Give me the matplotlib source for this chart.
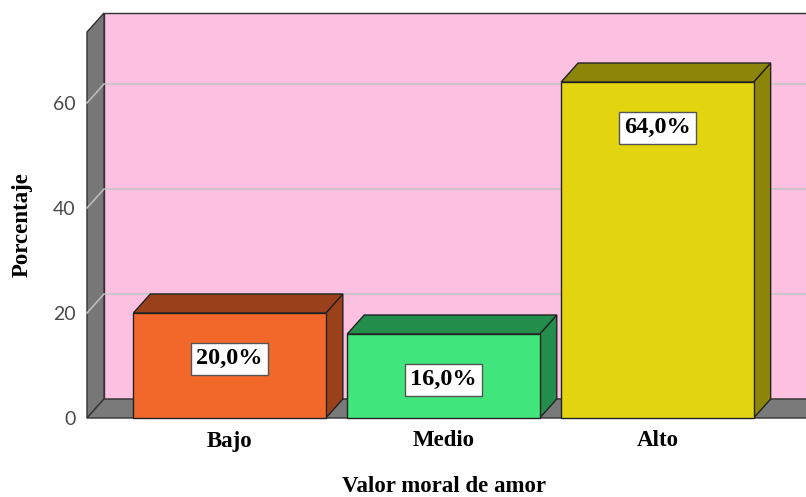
import matplotlib
matplotlib.use("Agg")
import matplotlib.pyplot as plt
from matplotlib.patches import Polygon, Rectangle

categories = ["Bajo", "Medio", "Alto"]
values = [20.0, 16.0, 64.0]
value_labels = ["20,0%", "16,0%", "64,0%"]
yticks = [0, 20, 40, 60]
front_colors = ["#F2682B", "#40E67C", "#E2D510"]
dark_colors = ["#9A411C", "#238E4B", "#8D850A"]

W, H = 806, 497
fig = plt.figure(figsize=(W / 100, H / 100), dpi=100)
fig.patch.set_facecolor("white")

left_px, right_px, bottom_px, top_px = 87, 800, 418, 32
ax = fig.add_axes([left_px / W, (H - bottom_px) / H,
                   (right_px - left_px) / W, (bottom_px - top_px) / H])
x0, x1 = -0.6667, 2.6667
ytop = (bottom_px - top_px) / 5.25
ax.set_xlim(x0, x1)
ax.set_ylim(0, ytop)
ax.patch.set_visible(False)
for s in ax.spines.values():
    s.set_visible(False)

dx = 17 / 214.0
dy = 19 / 5.25
bw = 0.9

# back wall
ax.add_patch(Rectangle((x0 + dx, dy), (x1 - x0) + 1, ytop, facecolor="#FCC0E1",
                       edgecolor="#333333", lw=1, clip_on=False, zorder=1))
# left side wall
ax.add_patch(Polygon([(x0, 0), (x0, ytop), (x0 + dx, ytop + dy), (x0 + dx, dy)],
                     closed=True, facecolor="#777777", edgecolor="#333333", lw=1,
                     clip_on=False, zorder=2))
# floor
ax.add_patch(Polygon([(x0, 0), (x1 + 1, 0), (x1 + 1 + dx, dy), (x0 + dx, dy)],
                     closed=True, facecolor="#7A7A7A", edgecolor="#333333", lw=1,
                     clip_on=False, zorder=2))
# gridlines
for t in yticks[1:]:
    ax.plot([x0 + dx, x1 + 1], [t + dy, t + dy], color="#C4C4C4", lw=1.2,
            zorder=1.5, clip_on=False)
    ax.plot([x0, x0 + dx], [t, t + dy], color="#BBBBBB", lw=1.2, zorder=2.5,
            clip_on=False)

# bars
for i, (v, fc, dc, lab) in enumerate(zip(values, front_colors, dark_colors, value_labels)):
    xl, xr = i - bw / 2, i + bw / 2
    ax.add_patch(Polygon([(xr, 0), (xr + dx, dy), (xr + dx, v + dy), (xr, v)],
                         closed=True, facecolor=dc, edgecolor="#222222", lw=1,
                         zorder=5, clip_on=False))
    ax.add_patch(Polygon([(xl, v), (xl + dx, v + dy), (xr + dx, v + dy), (xr, v)],
                         closed=True, facecolor=dc, edgecolor="#222222", lw=1,
                         zorder=5, clip_on=False))
    ax.add_patch(Rectangle((xl, 0), bw, v, facecolor=fc, edgecolor="#222222",
                           lw=1, zorder=6, clip_on=False))
    ax.annotate(lab, xy=(i, v), xytext=(0, -33), textcoords="offset points",
                ha="center", va="center", fontsize=17.5, fontweight="bold",
                family="Liberation Serif", zorder=8,
                bbox=dict(boxstyle="square,pad=0.22", facecolor="white",
                          edgecolor="#555555", lw=1))

ax.set_yticks(yticks)
ax.set_yticklabels([str(t) for t in yticks], fontsize=14, color="#4A4A4A",
                   family="Lato")
ax.tick_params(axis="y", length=0, pad=8)
ax.set_xticks(range(len(categories)))
ax.set_xticklabels(categories, fontsize=16.5, fontweight="bold",
                   family="Liberation Serif")
ax.tick_params(axis="x", length=0, pad=9)
ax.set_xlabel("Valor moral de amor", fontsize=16.5, fontweight="bold",
              family="Liberation Serif")
ax.xaxis.set_label_coords(0.5, -69 / (bottom_px - top_px), transform=ax.transAxes)
ax.xaxis.label.set_va("center")
ax.set_ylabel("Porcentaje", fontsize=16.5, fontweight="bold",
              family="Liberation Serif")
ax.yaxis.set_label_coords(-65 / (right_px - left_px), (bottom_px - 225) / (bottom_px - top_px))
ax.yaxis.label.set_va("center")

fig.savefig("out.png", dpi=100)
